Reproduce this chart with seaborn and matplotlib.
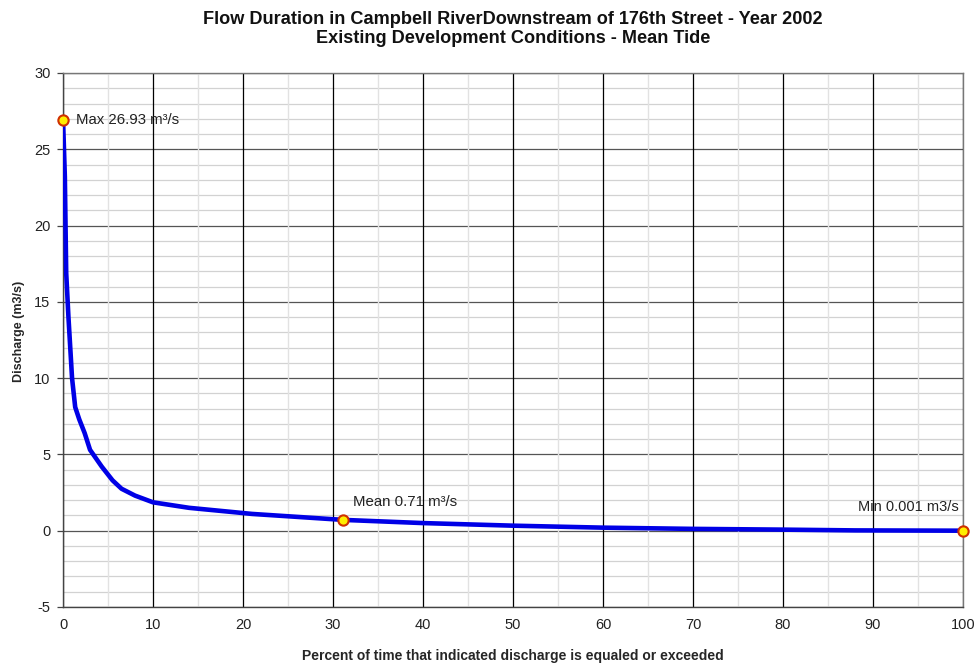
import matplotlib
matplotlib.use("Agg")
import matplotlib.pyplot as plt
from matplotlib.ticker import MultipleLocator
import numpy as np
import pandas as pd
import seaborn as sns

# Flow duration curve: percent of time exceeded vs discharge (m3/s)
percent_exceeded = [0, 0.2, 0.35, 0.6, 1.0, 1.35, 1.8, 2.4, 3.0, 4.3, 5.5, 6.5, 8.0,
                    10, 14, 21, 31.1, 40, 50, 60, 70, 80, 88, 100]
discharge = [26.93, 23.2, 16.9, 14.0, 10.0, 8.1, 7.3, 6.4, 5.3, 4.2, 3.3, 2.75, 2.3,
             1.86, 1.5, 1.1, 0.71, 0.5, 0.33, 0.2, 0.12, 0.07, 0.02, 0.001]

# Highlighted statistics
stat_names = ["Max", "Mean", "Min"]
stat_x = [0, 31.1, 100]
stat_y = [26.93, 0.71, 0.001]
stat_labels = ["Max 26.93 m³/s", "Mean 0.71 m³/s", "Min 0.001 m3/s"]

title_lines = ["Flow Duration in Campbell RiverDownstream of 176th Street - Year 2002",
               "Existing Development Conditions - Mean Tide"]
x_label = "Percent of time that indicated discharge is equaled or exceeded"
y_label = "Discharge (m3/s)"

sns.set_theme(style="white")
plt.rcParams["font.family"] = ["Liberation Sans", "DejaVu Sans"]
plt.rcParams["axes.unicode_minus"] = False

df = pd.DataFrame({"pct": percent_exceeded, "q": discharge})
stats = pd.DataFrame({"name": stat_names, "pct": stat_x, "q": stat_y})

fig = plt.figure(figsize=(9.79, 6.66), dpi=100)
ax = fig.add_axes([0.0644, 0.0886, 0.9193, 0.8018])

ax.set_xlim(0, 100)
ax.set_ylim(-5, 30)
ax.xaxis.set_major_locator(MultipleLocator(10))
ax.xaxis.set_minor_locator(MultipleLocator(5))
ax.yaxis.set_major_locator(MultipleLocator(5))
ax.yaxis.set_minor_locator(MultipleLocator(1))

ax.grid(which="minor", axis="x", color="#e2e2e2", lw=1.0)
ax.grid(which="minor", axis="y", color="#d2d2d2", lw=0.9)
ax.grid(which="major", axis="x", color="#000000", lw=0.9)
ax.grid(which="major", axis="y", color="#555555", lw=0.9)
ax.set_axisbelow(True)
# keep the vertical (percent) grid drawn above the horizontal one
ax.yaxis.set_zorder(0.4)
ax.xaxis.set_zorder(0.5)

sns.lineplot(data=df, x="pct", y="q", ax=ax, color="#0000e6", lw=3.3,
             solid_capstyle="round", solid_joinstyle="round", zorder=3)
sns.scatterplot(data=stats, x="pct", y="q", ax=ax, s=55, color="#ffee00",
                edgecolor="#d03000", linewidth=1.5, zorder=5, clip_on=False)

ax.annotate(stat_labels[0], (stat_x[0], stat_y[0]), xytext=(9, 0),
            textcoords="offset points", ha="left", va="center",
            fontsize=10.8, color="#222222")
ax.annotate(stat_labels[1], (stat_x[1], stat_y[1]), xytext=(7, 13),
            textcoords="offset points", ha="left", va="center",
            fontsize=10.8, color="#222222")
ax.annotate(stat_labels[2], (stat_x[2], stat_y[2]), xytext=(-3, 17),
            textcoords="offset points", ha="right", va="center",
            fontsize=10.5, color="#222222")

for s in ax.spines.values():
    s.set_color("#777777")
    s.set_linewidth(1.0)
ax.spines["left"].set_color("#444444")
ax.spines["bottom"].set_color("#444444")

ax.tick_params(axis="both", which="major", labelsize=10.5, colors="#222222",
               length=4, width=0.9, direction="out", pad=5)
ax.tick_params(axis="x", which="major", length=0, pad=8)
ax.tick_params(which="minor", length=0)
ax.tick_params(axis="y", which="major", left=True, color="#444444")

ax.set_xlabel(x_label, fontsize=10, fontweight="bold", labelpad=12)
ax.set_ylabel(y_label, fontsize=9, fontweight="bold")
ax.yaxis.set_label_coords(-0.042, 0.517)

# two-line title centred over the plot area
ax.text(0.5, 1.0 + (73 - 20) / 534, title_lines[0], transform=ax.transAxes,
        ha="center", va="center", fontsize=13.1, fontweight="bold", color="#111111")
ax.text(0.5, 1.0 + (73 - 39) / 534, title_lines[1], transform=ax.transAxes,
        ha="center", va="center", fontsize=13.1, fontweight="bold", color="#111111")

fig.savefig("out.png", dpi=100, facecolor="white")
